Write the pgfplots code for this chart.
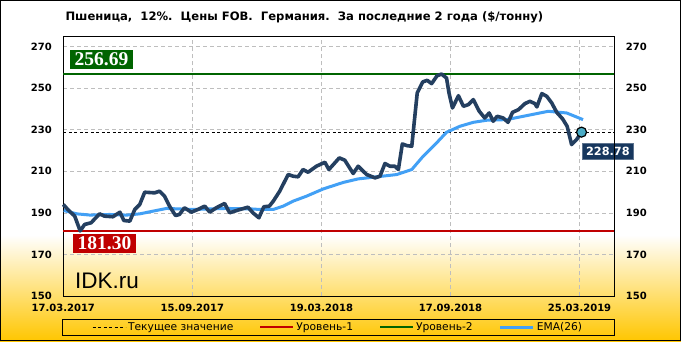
\documentclass[border=0pt]{standalone}
\usepackage{pgfplots}
\pgfplotsset{compat=1.18}
\usepackage{fontspec}
\setmainfont{DejaVu Sans}
\newfontfamily\serifb{Liberation Serif}
\newfontfamily\arialf{Liberation Sans}
\definecolor{mainc}{RGB}{36,63,96}
\definecolor{emac}{RGB}{66,160,245}
\definecolor{greenc}{RGB}{0,100,0}
\definecolor{redc}{RGB}{192,0,0}
\definecolor{navyc}{RGB}{23,55,94}
\definecolor{dotc}{RGB}{75,172,198}
\definecolor{goldc}{RGB}{255,198,0}
\definecolor{gridc}{RGB}{190,190,190}
\begin{document}
\begin{tikzpicture}[x=1pt,y=1pt]
\path[use as bounding box] (-63.3,-45) rectangle (617.7,296);
\fill[white] (-63.3,-45) rectangle (617.7,296);
\shade[top color=white, bottom color=goldc] (-63.3,-45) rectangle (617.7,61);
\draw[black, line width=1pt] (-62.8,-44.5) rectangle (617.2,295.5);
\node[anchor=base west, inner sep=0pt, font=\bfseries\fontsize{11.6}{13}\selectfont] at (2.0,275.3) {Пшеница,\ \ 12\%.\ \ Цены FOB.\ \ Германия.\ \ За последние 2 года (\$/тонну)};
\begin{axis}[
  at={(0,0)}, anchor=south west,
  scale only axis, width=551pt, height=260pt,
  xmin=0, xmax=111, ymin=150, ymax=275,
  xtick={0,26,52,78,104},
  xticklabels={17.03.2017,15.09.2017,19.03.2018,17.09.2018,25.03.2019},
  ytick={150,170,190,210,230,250,270},
  grid=major,
  major grid style={gridc, dash pattern=on 4pt off 3pt, line width=0.6pt},
  major tick length=0pt,
  axis line style={black, line width=1pt},
  tick label style={font=\bfseries\fontsize{10}{12}\selectfont},
  xticklabel style={anchor=base, yshift=-15.5pt},
  yticklabel style={anchor=east, xshift=-8pt},
  /pgf/number format/assume math mode=true,
  legend columns=4,
  legend style={at={(0.4988,-0.1198)}, anchor=center, draw=none, fill=none,
    font=\fontsize{10.7}{12}\selectfont, inner sep=0pt,
    /tikz/every even column/.append style={column sep=24pt}},
  legend image code/.code={\draw[#1] (0pt,0pt) -- (33pt,0pt);},
  clip=false,
]
\addplot[black, line width=0.9pt, dash pattern=on 3pt off 2.5pt] coordinates {(0,228.78) (111,228.78)};
\addlegendentry{Текущее значение}
\addplot[redc, line width=2pt] coordinates {(0,181.30) (111,181.30)};
\addlegendentry{Уровень-1}
\addplot[greenc, line width=2pt] coordinates {(0,256.69) (111,256.69)};
\addlegendentry{Уровень-2}
\addplot[emac, line width=3pt, line join=round] coordinates {
(0.1,191.1) (2.7,189.5) (5.4,188.9) (9.3,189.2) (12.8,188.9) (15.4,189.5) (18.1,190.8) (20.8,192.1)
(26.2,191.6) (32.9,192.1) (37.6,191.9) (39.6,191.6) (42.3,191.6) (44.3,193.2) (46.3,195.6) (49,198.0)
(52.4,201.5) (56.4,204.6) (59.4,206.3) (62.4,207.1) (67.2,208.4) (70.2,210.8) (72.5,217.2) (75.2,223.6)
(77.2,228.7) (79.9,231.6) (82.6,233.5) (85.3,234.5) (89.3,234.8) (93.3,236.7) (96,238.0) (97.7,238.8)
(101.4,238.0) (104.7,234.8)};
\addlegendentry{EMA(26)}
\addplot[mainc, line width=3.6pt, line join=round, forget plot] coordinates {
(0,194.0) (0.9,191.6) (2.3,188.4) (3.4,181.3) (4.3,184.4) (5.6,185.2) (7.3,189.5) (8.3,188.4) (10,188.1)
(11.4,190.3) (12.2,186.3) (13.4,186.0) (14.4,191.6) (15.4,194.0) (16.4,199.9) (18.4,199.6) (19.4,200.4)
(20.4,198.0) (21.4,193.2) (22.6,188.7) (23.4,189.2) (24.4,192.4) (25.8,190.3) (27.1,191.6) (28.5,193.2)
(29.5,190.3) (30.8,192.4) (32.5,194.5) (33.5,190.0) (34.9,191.1) (37.2,192.7) (38.2,190.0) (39.4,187.6)
(40.4,192.9) (41.5,193.2) (42.3,195.6) (43.6,200.4) (45.3,208.4) (46.3,207.6) (47.3,207.3) (48.3,210.8)
(49.3,209.5) (51,212.4) (52.7,214.3) (53.5,210.8) (55.6,216.4) (56.7,215.3) (58.4,208.9) (59.4,212.4)
(61.1,208.4) (62.8,206.8) (63.8,207.6) (64.8,213.7) (65.8,212.4) (66.8,212.4) (67.5,210.8) (68.3,223.1)
(69.2,222.3) (70.2,222.0) (71.3,247.6) (72.4,252.9) (73.3,253.7) (74.2,252.1) (75.3,255.9) (76.2,256.69)
(77.2,254.8) (77.7,247.6) (78.4,240.4) (79.6,246.3) (80.6,241.2) (81.6,242.0) (82.6,244.4) (83.8,238.8)
(84.9,235.6) (85.8,238.0) (86.6,234.0) (87.4,236.4) (88.6,235.6) (89.6,233.5) (90.5,238.3) (91.7,239.6)
(93,242.5) (94,243.6) (95,242.5) (95.4,240.9) (96.4,247.3) (97.4,246.0) (98.4,242.8) (99.4,238.3)
(100.6,235.1) (101.5,231.6) (102.4,222.8) (103.4,225.2) (104.4,228.78)};
\addplot[only marks, mark=*, mark size=5pt, mark options={fill=dotc, draw=black, line width=1.2pt}, forget plot] coordinates {(104.4,228.78)};
\node[anchor=south west, fill=greenc, text=white, inner xsep=4.5pt, inner ysep=2.5pt, font=\serifb\bfseries\fontsize{19.5}{21}\selectfont] at (axis cs:1.35,259.2) {256.69};
\node[anchor=north west, fill=redc, text=white, inner xsep=4.5pt, inner ysep=2.5pt, font=\serifb\bfseries\fontsize{19.5}{21}\selectfont] at (axis cs:1.95,179.7) {181.30};
\node[anchor=north west, fill=navyc, draw=navyc!70!white, line width=0.6pt, text=white, inner xsep=3.5pt, inner ysep=4pt, font=\bfseries\fontsize{11.3}{13}\selectfont] at (axis cs:104.55,223.7) {228.78};
\node[anchor=base west, inner sep=0pt, font=\arialf\fontsize{22.5}{24}\selectfont] at (axis cs:2.35,153.4) {IDK.ru};
\end{axis}
\begin{axis}[
  at={(0,0)}, anchor=south west,
  scale only axis, width=551pt, height=260pt,
  xmin=0, xmax=111, ymin=150, ymax=275,
  hide x axis, axis y line*=right,
  ytick={150,170,190,210,230,250,270},
  major tick length=0pt,
  axis line style={black, line width=1pt},
  tick label style={font=\bfseries\fontsize{10}{12}\selectfont},
  yticklabel style={anchor=west, xshift=8pt},
  /pgf/number format/assume math mode=true,
]
\addplot[draw=none] coordinates {(0,150)};
\end{axis}
\draw[black, line width=1pt] (-1.3,-23.3) rectangle (551,-39);
\end{tikzpicture}
\end{document}
